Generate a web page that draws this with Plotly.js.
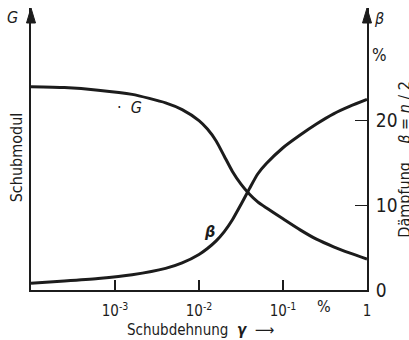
<!DOCTYPE html>
<html>
<head>
<meta charset="utf-8">
<script src="https://cdn.plot.ly/plotly-3.0.1.min.js"></script>
<style>
  html, body { margin: 0; padding: 0; background: #ffffff; }
  #plot { width: 409px; height: 340px; }
</style>
</head>
<body>
<div id="plot"></div>
<script>
// Schubdehnung gamma in %
const strain = [1e-4, 2.5e-4, 6.3e-4, 1.6e-3, 4e-3, 6.3e-3, 1e-2, 1.26e-2, 1.6e-2, 2e-2, 2.5e-2,
    3.16e-2, 4e-2, 5e-2, 6.3e-2, 0.1, 0.16, 0.25, 0.4, 0.63, 1];
// Schubmodul G (no scale on the left axis, drawn in the same units as beta)
const shearModulus = [24.0, 23.9, 23.6, 23.1, 22.1, 21.3, 20.0, 19.0, 17.6, 15.8, 14.0,
    12.5, 11.3, 10.4, 9.7, 8.4, 7.1, 6.0, 5.1, 4.35, 3.65];
// Daempfung beta in %
const damping = [0.8, 1.05, 1.35, 1.8, 2.55, 3.2, 4.2, 4.9, 5.8, 6.9, 8.3,
    10.1, 12.0, 13.7, 14.9, 16.8, 18.3, 19.6, 20.8, 21.7, 22.5];

const xTickVals = [1e-3, 1e-2, 1e-1, 1];
const xTickText = ["10<sup>-3</sup>", "10<sup>-2</sup>", "10<sup>-1</sup>", "1"];
const yTickVals = [0, 10, 20];

const ink = "#1c1c1c";
const labelFont = "DejaVu Sans Condensed, DejaVu Sans, sans-serif";
const numFont = "Liberation Sans Narrow, DejaVu Sans Condensed, sans-serif";
const yTop = 33.3;

const traces = [
    {
        x: strain,
        y: shearModulus,
        type: "scatter",
        mode: "lines",
        line: { color: ink, width: 3, shape: "spline", smoothing: 0.6 },
        yaxis: "y",
        hoverinfo: "skip"
    },
    {
        x: strain,
        y: damping,
        type: "scatter",
        mode: "lines",
        line: { color: ink, width: 3, shape: "spline", smoothing: 0.6 },
        yaxis: "y2",
        hoverinfo: "skip"
    }
];

// arrow heads on top of both vertical axes
const headH = 15 / 282;
const headW = 4.5 / 336;
function arrowHead(px) {
    return {
        type: "path",
        xref: "paper",
        yref: "paper",
        path: `M ${px - headW},${1 - headH} L ${px},1 L ${px + headW},${1 - headH} Z`,
        fillcolor: ink,
        line: { color: ink, width: 1 }
    };
}

function label(text, x, y, opts) {
    return Object.assign({
        text: text,
        xref: "paper",
        yref: "paper",
        x: x,
        y: y,
        xanchor: "center",
        yanchor: "middle",
        showarrow: false,
        font: { family: labelFont, size: 16, color: ink }
    }, opts || {});
}

const layout = {
    width: 409,
    height: 340,
    margin: { l: 31, r: 42, t: 8, b: 50 },
    paper_bgcolor: "#ffffff",
    plot_bgcolor: "#ffffff",
    showlegend: false,
    font: { family: labelFont, color: ink, size: 16 },
    xaxis: {
        type: "log",
        range: [-4, 0],
        tickvals: xTickVals,
        ticktext: xTickText,
        ticks: "inside",
        ticklen: 10,
        tickwidth: 1.5,
        tickcolor: ink,
        ticklabelstandoff: 6,
        showgrid: false,
        zeroline: false,
        showline: true,
        linecolor: ink,
        linewidth: 2,
        tickfont: { family: numFont, size: 15, color: ink }
    },
    yaxis: {
        range: [0, yTop],
        showticklabels: false,
        ticks: "",
        showgrid: false,
        zeroline: false,
        showline: true,
        linecolor: ink,
        linewidth: 2
    },
    yaxis2: {
        overlaying: "y",
        side: "right",
        range: [0, yTop],
        tickvals: yTickVals,
        ticks: "inside",
        ticklen: 12,
        tickwidth: 1.5,
        tickcolor: ink,
        ticklabelstandoff: 3,
        showgrid: false,
        zeroline: false,
        showline: true,
        linecolor: ink,
        linewidth: 2,
        tickfont: { family: numFont, size: 19, color: ink }
    },
    shapes: [arrowHead(0), arrowHead(1)],
    annotations: [
        label("<i>G</i>", -0.0565, 0.966),
        label("<i>β</i>", 1.036, 0.963),
        label("%", 1.036, 0.833, { font: { family: numFont, size: 17, color: ink } }),
        label("Schubmodul", -0.0405, 0.472, { textangle: -90 }),
        label("Dämpfung    <i>β</i> = <i>η</i> / 2", 1.112, 0.461, { textangle: -90 }),
        label("·  <i>G</i>", -2.83, 21.6, { xref: "x", yref: "y" }),
        label("<b><i>β</i></b>", -1.873, 6.9, { xref: "x", yref: "y" }),
        label("%", -0.509, -0.057, { yref: "paper", xref: "x", font: { family: numFont, size: 16, color: ink } }),
        label("Schubdehnung  <b><i>γ</i></b>  ⟶", 0.503, -0.142, { font: { family: labelFont, size: 15, color: ink } })
    ]
};

Plotly.newPlot("plot", traces, layout, { displayModeBar: false, staticPlot: true });
</script>
</body>
</html>
